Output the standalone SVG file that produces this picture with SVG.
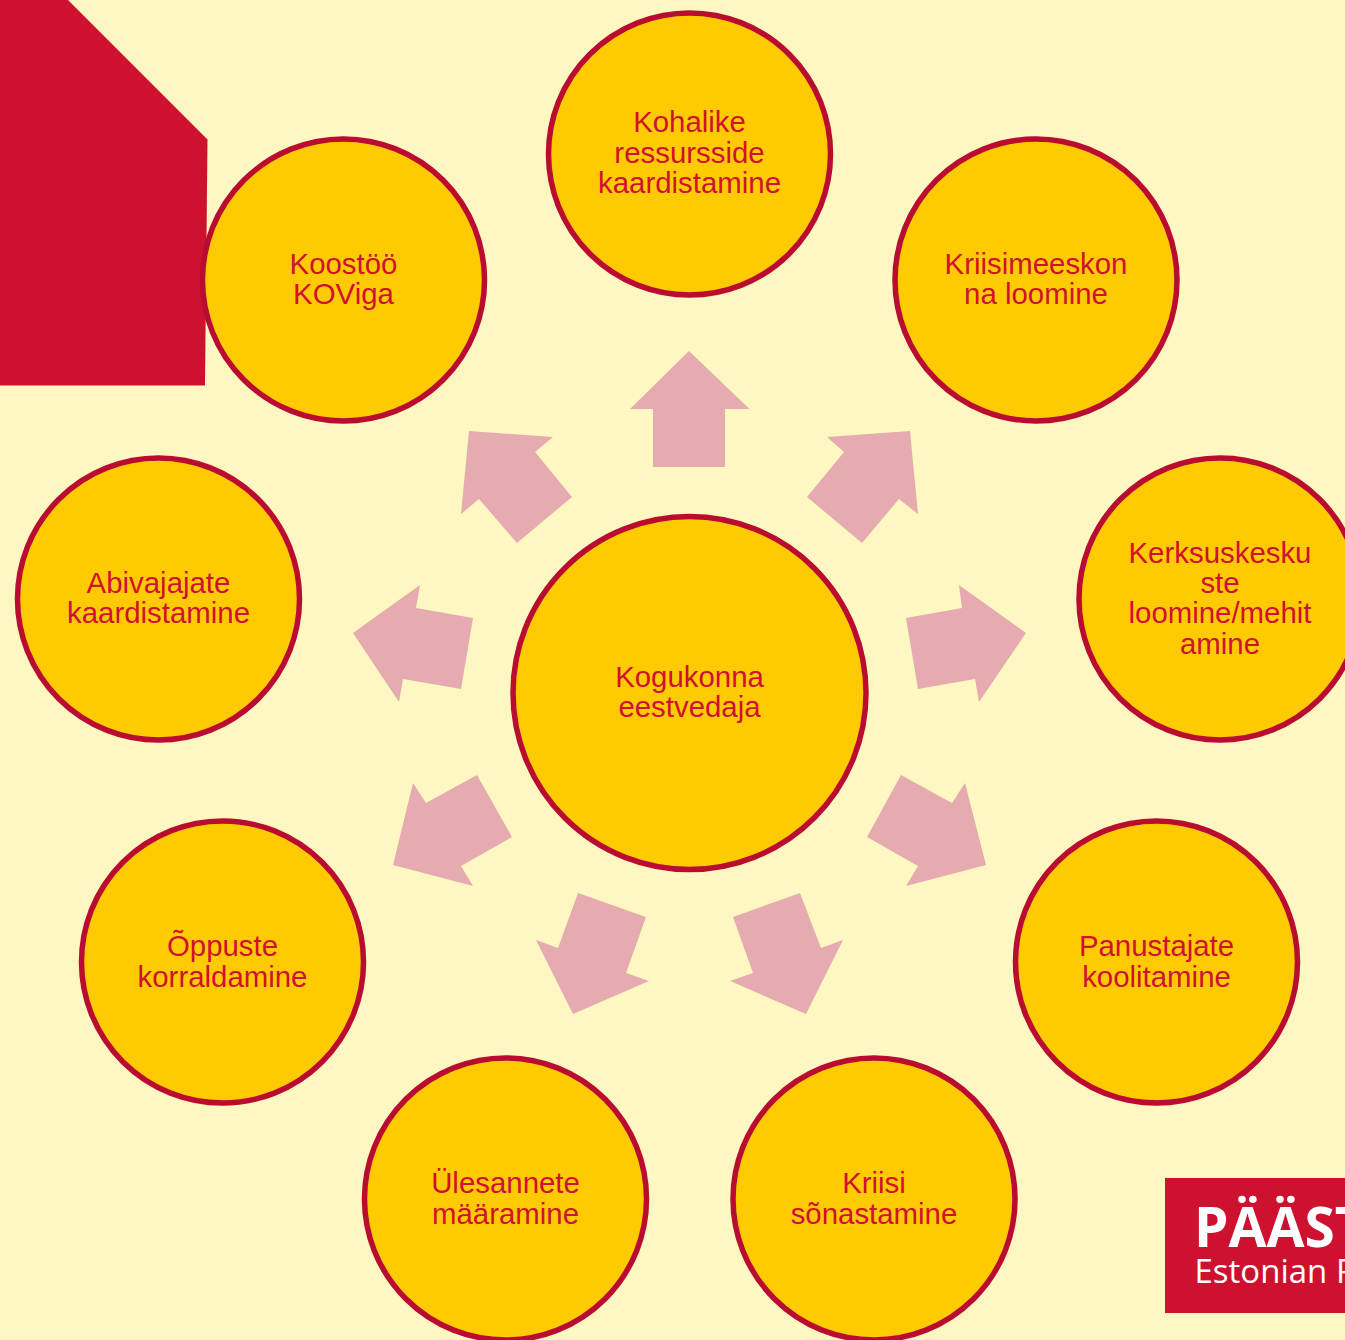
<svg xmlns="http://www.w3.org/2000/svg" width="1345" height="1340" viewBox="0 0 1345 1340">
<style>
.n{fill:#FFCB00;stroke:#BA0C30;stroke-width:5.500}
.t{font-family:"Liberation Sans",Arial,sans-serif;font-size:29.400px;fill:#D0112F;text-anchor:middle}
.a{fill:#E5ABB0}
</style>
<rect width="1345" height="1340" fill="#FFF7C2"/>
<polygon id="corner" points="0,0 68,0 207.500,139.500 205,385.500 0,385.500" fill="#CF1130"/>
<g id="connectors">
<polygon class="a" points="689,351 749.500,409 725,409 725,467 653,467 653,409 630,409"/>
<polygon class="a" points="469,431 553,437 535,452 572,497 517,543 479,499 461,514"/>
<polygon class="a" points="910,431 827,437 844,452 807,497 862,543 899,499 918,514"/>
<polygon class="a" points="353,633 420,585 416,608 473,618 461,689 403,679 399,702"/>
<polygon class="a" points="1026,633 959,585 962,608 906,618 918,689 975,679 979,702"/>
<polygon class="a" points="393,865 413,783 426,803 477,775 512,837 461,866 473,886"/>
<polygon class="a" points="986,865 965,783 952,803 901,775 867,837 918,866 906,886"/>
<polygon class="a" points="573,1014 536,940 558,948 578,893 646,917 626,973 649,981"/>
<polygon class="a" points="806,1014 843,940 821,948 800,893 733,917 753,973 730,981"/>
</g>
<g id="n0"><circle class="n" cx="689.500" cy="693" r="176.500"/><text class="t" x="689.500" y="687.400">Kogukonna</text><text class="t" x="689.500" y="717.400">eestvedaja</text></g>
<g id="n1"><circle class="n" cx="689.500" cy="154" r="141"/><text class="t" x="689.500" y="132.400">Kohalike</text><text class="t" x="689.500" y="163.400">ressursside</text><text class="t" x="689.500" y="193.400">kaardistamine</text></g>
<g id="n2"><circle class="n" cx="1036" cy="280" r="141"/><text class="t" x="1036" y="274.400">Kriisimeeskon</text><text class="t" x="1036" y="304.400">na loomine</text></g>
<g id="n3"><circle class="n" cx="1220" cy="599" r="141"/><text class="t" x="1220" y="563.400">Kerksuskesku</text><text class="t" x="1220" y="593.400">ste</text><text class="t" x="1220" y="623.400">loomine/mehit</text><text class="t" x="1220" y="654.400">amine</text></g>
<g id="n4"><circle class="n" cx="1156.500" cy="962" r="141"/><text class="t" x="1156.500" y="956.400">Panustajate</text><text class="t" x="1156.500" y="987.400">koolitamine</text></g>
<g id="n5"><circle class="n" cx="874" cy="1199" r="141"/><text class="t" x="874" y="1193.400">Kriisi</text><text class="t" x="874" y="1224.400">sõnastamine</text></g>
<g id="n6"><circle class="n" cx="505.500" cy="1199" r="141"/><text class="t" x="505.500" y="1193.400">Ülesannete</text><text class="t" x="505.500" y="1224.400">määramine</text></g>
<g id="n7"><circle class="n" cx="222.500" cy="962" r="141"/><text class="t" x="222.500" y="956.400">Õppuste</text><text class="t" x="222.500" y="987.400">korraldamine</text></g>
<g id="n8"><circle class="n" cx="158.500" cy="599" r="141"/><text class="t" x="158.500" y="593.400">Abivajajate</text><text class="t" x="158.500" y="623.400">kaardistamine</text></g>
<g id="n9"><circle class="n" cx="343.500" cy="280" r="141"/><text class="t" x="343.500" y="274.400">Koostöö</text><text class="t" x="343.500" y="304.400">KOViga</text></g>
<g id="logo"><rect x="1165" y="1178" width="180" height="135" fill="#CF1130"/>
<text x="1194" y="1247" font-family="'Open Sans',sans-serif" font-weight="700" font-size="55" fill="#fff">PÄÄST</text>
<text x="1194.500" y="1283" font-family="'Open Sans',sans-serif" font-size="33" fill="#fff">Estonian R</text></g>
</svg>
